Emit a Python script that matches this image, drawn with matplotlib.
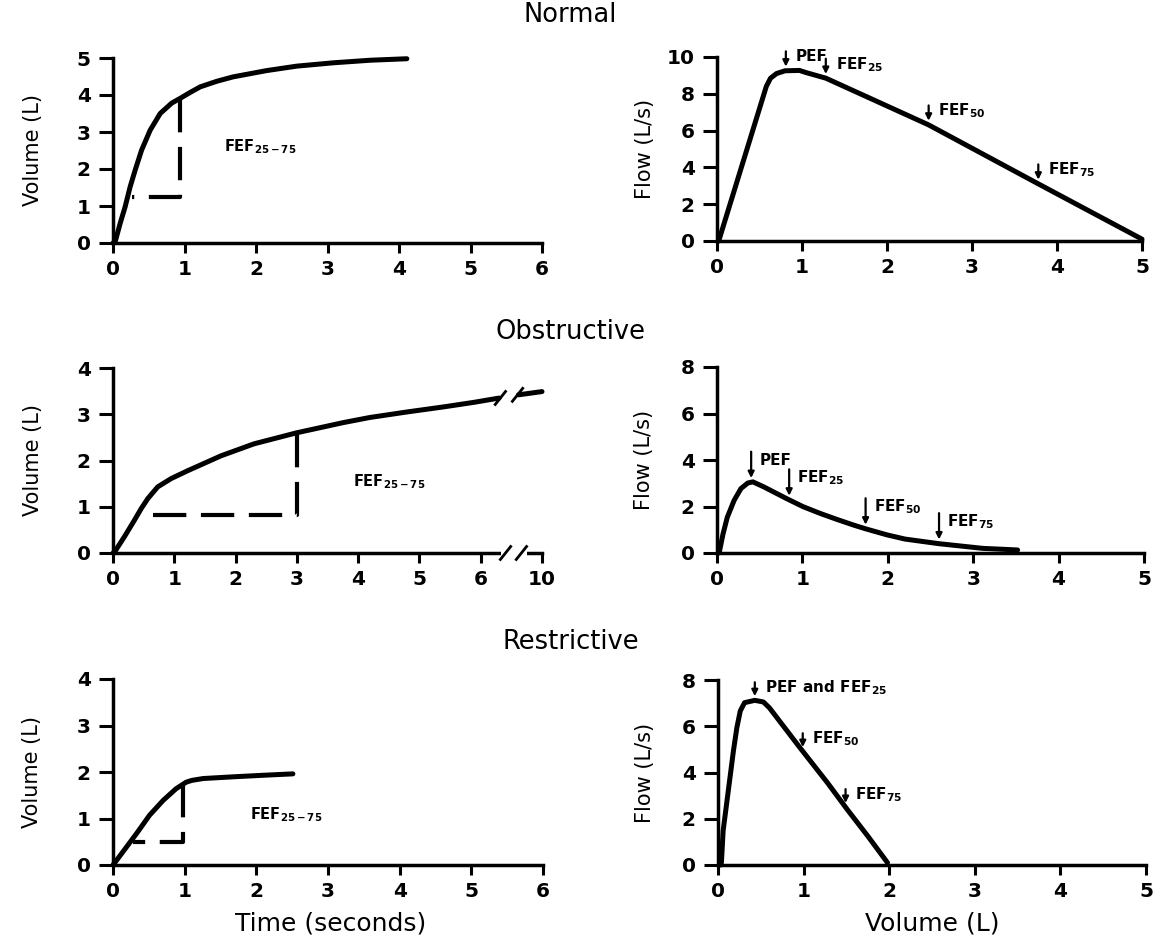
import numpy as np
import matplotlib
matplotlib.use("Agg")
import matplotlib.pyplot as plt
from matplotlib.patches import Rectangle

# --- volume-time curves (seconds, litres) ---
NORMAL_T = [0.0, 0.03, 0.1, 0.17, 0.24, 0.31, 0.4, 0.52, 0.66, 0.82, 0.94,
            1.08, 1.22, 1.45, 1.68, 2.15, 2.57, 3.08, 3.6, 4.11]
NORMAL_V = [0.0, 0.03, 0.53, 0.98, 1.52, 1.97, 2.51, 3.05, 3.5, 3.78, 3.91,
            4.07, 4.22, 4.37, 4.49, 4.66, 4.78, 4.87, 4.94, 4.98]

OBS_T = [0.0, 0.03, 0.19, 0.35, 0.46, 0.57, 0.73, 0.95, 1.22, 1.76, 2.3, 3.0,
         3.76, 4.19, 4.8, 5.4, 5.9, 6.3]
OBS_V = [0.0, 0.03, 0.36, 0.71, 0.96, 1.18, 1.43, 1.61, 1.78, 2.1, 2.36, 2.6,
         2.82, 2.93, 3.05, 3.16, 3.26, 3.35]
OBS_TAIL_T = [7.7, 10.0]
OBS_TAIL_V = [3.42, 3.49]

RES_T = [0.0, 0.02, 0.19, 0.33, 0.51, 0.7, 0.88, 1.02, 1.1, 1.26, 1.72, 2.1, 2.51]
RES_V = [0.0, 0.04, 0.39, 0.68, 1.07, 1.39, 1.64, 1.78, 1.82, 1.86, 1.9, 1.93, 1.96]

# FEF25-75 construction: (start time, end time), (volume at 25%, volume at 75%)
NORMAL_FEF_T = [0.26, 0.94]
NORMAL_FEF_V = [1.25, 3.88]
OBS_FEF_T = [0.43, 3.0]
OBS_FEF_V = [0.82, 2.58]
RES_FEF_T = [0.28, 0.98]
RES_FEF_V = [0.5, 1.75]

# --- flow-volume curves (litres, L/s) ---
NORMAL_VOL = [0.02, 0.3, 0.58, 0.63, 0.7, 0.8, 0.97, 1.05, 1.28, 2.49, 3.77, 5.0]
NORMAL_FLOW = [0.0, 4.2, 8.4, 8.85, 9.1, 9.25, 9.27, 9.15, 8.85, 6.31, 3.13, 0.1]

OBS_VOL = [0.02, 0.03, 0.07, 0.12, 0.2, 0.28, 0.36, 0.42, 0.55, 0.82, 1.01,
           1.21, 1.4, 1.6, 1.74, 1.99, 2.2, 2.6, 3.11, 3.52]
OBS_FLOW = [0.0, 0.09, 0.81, 1.53, 2.26, 2.77, 3.01, 3.06, 2.84, 2.33, 1.99,
            1.7, 1.45, 1.2, 1.04, 0.78, 0.6, 0.4, 0.2, 0.13]

RES_VOL = [0.03, 0.04, 0.06, 0.1, 0.14, 0.18, 0.22, 0.26, 0.31, 0.43, 0.53,
           0.6, 0.96, 1.28, 1.51, 1.75, 1.98]
RES_FLOW = [0.0, 0.11, 1.48, 2.63, 3.78, 4.93, 5.93, 6.66, 7.02, 7.12, 7.05,
            6.8, 5.06, 3.55, 2.4, 1.25, 0.1]

# marked points on the flow-volume loops
NORMAL_MARK_VOL = [0.81, 1.28, 2.49, 3.78]
NORMAL_MARK_LABELS = ["PEF", r"FEF$_{\mathbf{25}}$", r"FEF$_{\mathbf{50}}$", r"FEF$_{\mathbf{75}}$"]
OBS_MARK_VOL = [0.4, 0.845, 1.74, 2.6]
OBS_MARK_LABELS = ["PEF", r"FEF$_{\mathbf{25}}$", r"FEF$_{\mathbf{50}}$", r"FEF$_{\mathbf{75}}$"]
RES_MARK_VOL = [0.43, 0.99, 1.49]
RES_MARK_LABELS = [r"PEF and FEF$_{\mathbf{25}}$", r"FEF$_{\mathbf{50}}$", r"FEF$_{\mathbf{75}}$"]

FEF_RANGE_LABEL = r"FEF$_{\mathbf{25-75}}$"
TITLES = ["Normal", "Obstructive", "Restrictive"]

FIG_W, FIG_H = 1155, 936
CURVE_LW = 3.6

# x-axis break for the obstructive volume-time plot (6.4 s .. 10 s squeezed)
BREAK_AT = 6.4
SQUEEZE = 0.6 / 3.6


def fwd(t):
    t = np.asarray(t, dtype=float)
    return np.where(t <= BREAK_AT, t, BREAK_AT + (t - BREAK_AT) * SQUEEZE)


def inv(p):
    p = np.asarray(p, dtype=float)
    return np.where(p <= BREAK_AT, p, BREAK_AT + (p - BREAK_AT) / SQUEEZE)


def px_axes(fig, left, top, right, bottom):
    return fig.add_axes([left / FIG_W, 1 - bottom / FIG_H,
                         (right - left) / FIG_W, (bottom - top) / FIG_H])


def style_axes(ax, xticks, yticks, xlabels=None):
    for side in ("top", "right"):
        ax.spines[side].set_visible(False)
    for side in ("left", "bottom"):
        ax.spines[side].set_linewidth(2.5)
    ax.tick_params(axis="x", direction="out", length=7, width=2.2, pad=5)
    ax.tick_params(axis="y", direction="out", length=10, width=2.2, pad=6)
    if xlabels is None:
        xlabels = [str(t) for t in xticks]
    ax.set_xticks(xticks, labels=xlabels, fontsize=14.5, fontweight="bold")
    ax.set_yticks(yticks, labels=[str(t) for t in yticks], fontsize=14.5, fontweight="bold")
    ax.set_xlim(xticks[0], xticks[-1])
    ax.set_ylim(yticks[0], yticks[-1])


def volume_time(ax, t, v, fef_t, fef_v, label_xy):
    ax.plot(t, v, color="black", lw=CURVE_LW, solid_capstyle="round",
            solid_joinstyle="round", clip_on=False, zorder=4)
    # dashed FEF25-75 construction, drawn from the curve down and back
    ax.plot([fef_t[1], fef_t[1], fef_t[0]], [fef_v[1], fef_v[0], fef_v[0]],
            color="black", lw=3, linestyle=(0, (8, 3.5)), zorder=3)
    ax.text(label_xy[0], label_xy[1], FEF_RANGE_LABEL, fontsize=10.5,
            fontweight="bold", ha="left", va="center")
    ax.set_ylabel("Volume (L)", fontsize=15)
    ax.yaxis.set_label_coords(-0.164, 0.5)


def flow_volume(ax, vol, flow, marks, labels, arrow_len, dx, dy):
    ax.plot(vol, flow, color="black", lw=CURVE_LW, solid_capstyle="round",
            solid_joinstyle="round", clip_on=False, zorder=4)
    for x, lab in zip(marks, labels):
        y = np.interp(x, vol, flow)
        ax.annotate("", xy=(x, y), xytext=(0, arrow_len), textcoords="offset points",
                    arrowprops=dict(arrowstyle="-|>", color="black", lw=1.6,
                                    shrinkA=0, shrinkB=3, mutation_scale=9),
                    annotation_clip=False)
        ax.annotate(lab, xy=(x, y), xytext=(dx, arrow_len + dy),
                    textcoords="offset points", ha="left", va="center",
                    fontsize=11, fontweight="bold", annotation_clip=False)
    ax.set_ylabel("Flow (L/s)", fontsize=15)
    ax.yaxis.set_label_coords(-0.147, 0.5)


fig = plt.figure(figsize=(FIG_W / 100, FIG_H / 100), dpi=100)
fig.patch.set_facecolor("white")

# ---- Normal ----
ax = px_axes(fig, 113, 58, 542, 243)
style_axes(ax, [0, 1, 2, 3, 4, 5, 6], [0, 1, 2, 3, 4, 5])
volume_time(ax, NORMAL_T, NORMAL_V, NORMAL_FEF_T, NORMAL_FEF_V, (1.55, 2.6))

ax = px_axes(fig, 717, 57, 1142, 241)
style_axes(ax, [0, 1, 2, 3, 4, 5], [0, 2, 4, 6, 8, 10])
flow_volume(ax, NORMAL_VOL, NORMAL_FLOW, NORMAL_MARK_VOL, NORMAL_MARK_LABELS, 14, 7, -4)

# ---- Obstructive ----
ax = px_axes(fig, 113, 368, 542, 553)
ax.set_xscale("function", functions=(fwd, inv))
style_axes(ax, [0, 1, 2, 3, 4, 5, 6, 10], [0, 1, 2, 3, 4])
volume_time(ax, OBS_T, OBS_V, OBS_FEF_T, OBS_FEF_V, (3.92, 1.54))
ax.plot(OBS_TAIL_T, OBS_TAIL_V, color="black", lw=CURVE_LW, solid_capstyle="round",
        clip_on=False, zorder=4)
# break marks on the time axis and on the curve
ax.add_patch(Rectangle((0.905, -0.04), 0.06, 0.08, transform=ax.transAxes,
                       facecolor="white", edgecolor="none", clip_on=False, zorder=5))
for bx, by in [(0.915, 0.0), (0.952, 0.0), (0.903, 0.838), (0.943, 0.855)]:
    ax.plot([bx - 0.012, bx + 0.012], [by - 0.035, by + 0.035], color="black",
            lw=2, transform=ax.transAxes, clip_on=False, zorder=6)

ax = px_axes(fig, 717, 367, 1144, 553)
style_axes(ax, [0, 1, 2, 3, 4, 5], [0, 2, 4, 6, 8])
flow_volume(ax, OBS_VOL, OBS_FLOW, OBS_MARK_VOL, OBS_MARK_LABELS, 22, 6, -6)

# ---- Restrictive ----
ax = px_axes(fig, 113, 679, 543, 865)
style_axes(ax, [0, 1, 2, 3, 4, 5, 6], [0, 1, 2, 3, 4])
volume_time(ax, RES_T, RES_V, RES_FEF_T, RES_FEF_V, (1.91, 1.08))
ax.set_xlabel("Time (seconds)", fontsize=18)
ax.xaxis.set_label_coords(0.505, -0.25)

ax = px_axes(fig, 718, 680, 1146, 865)
style_axes(ax, [0, 1, 2, 3, 4, 5], [0, 2, 4, 6, 8])
flow_volume(ax, RES_VOL, RES_FLOW, RES_MARK_VOL, RES_MARK_LABELS, 13, 7, -4)
ax.set_xlabel("Volume (L)", fontsize=18)
ax.xaxis.set_label_coords(0.5, -0.25)

# row titles
for title, y in zip(TITLES, [0.984, 0.645, 0.314]):
    fig.text(0.494, y, title, ha="center", va="center", fontsize=18.5)

fig.savefig("out.png", dpi=100)
